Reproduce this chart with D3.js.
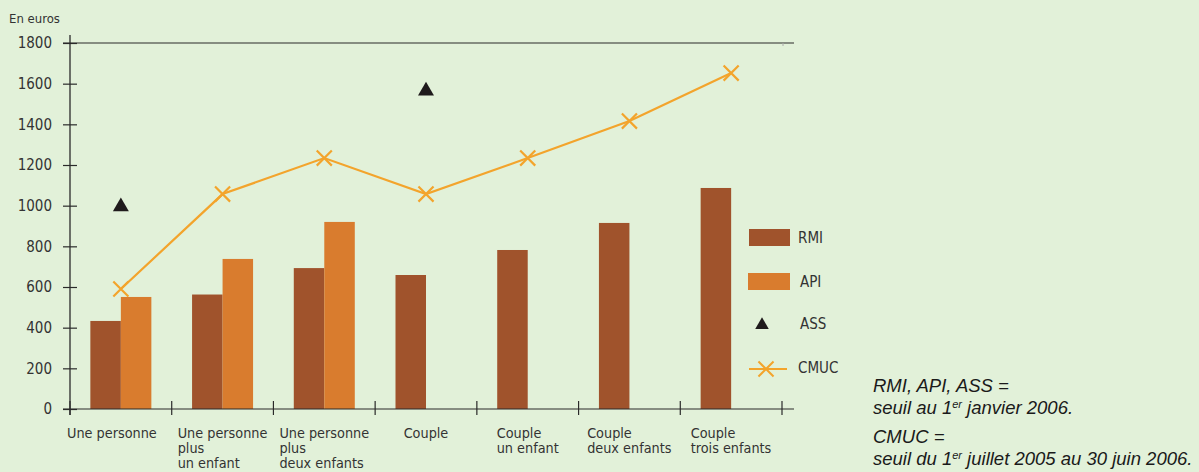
<!DOCTYPE html>
<html>
<head>
<meta charset="utf-8">
<script src="https://cdn.jsdelivr.net/npm/d3@7"></script>
<style>
  body { margin: 0; background: #e2f1d9; }
  svg { display: block; }
  .lbl { font-family: "Liberation Sans Narrow", "DejaVu Sans Condensed", sans-serif; fill: #333; }
  .note { font-family: "Liberation Sans", Arial, sans-serif; font-style: italic; fill: #1a1a1a; font-size: 18.5px; }
</style>
</head>
<body>
<script>
// data (euros)
const categories = [
  ["Une personne"],
  ["Une personne", "plus", "un enfant"],
  ["Une personne", "plus", "deux enfants"],
  ["Couple"],
  ["Couple", "un enfant"],
  ["Couple", "deux enfants"],
  ["Couple", "trois enfants"]
];
const rmi  = [433, 563, 693, 659, 782, 915, 1087];
const api  = [551, 738, 920, null, null, null, null];
const ass  = [1000, null, null, 1569, null, null, null];
const cmuc = [590, 1057, 1234, 1057, 1234, 1416, 1652];
const yTicks = [0, 200, 400, 600, 800, 1000, 1200, 1400, 1600, 1800];

const W = 1199, H = 472;
const cRmi = "#a0532c", cApi = "#d97c2e", cCmuc = "#f3a42c", cAss = "#1f1b1c", cAxis = "#2a2a2a";

const svg = d3.select("body").append("svg").attr("width", W).attr("height", H);

const x = d3.scaleBand().domain(d3.range(categories.length)).range([70, 782]);
const y = d3.scaleLinear().domain([0, 1800]).range([409, 43]);
const barW = 30.5;

// top line at 1800
svg.append("line").attr("x1", 63).attr("x2", 794).attr("y1", y(1800)).attr("y2", y(1800))
  .attr("stroke", cAxis).attr("stroke-width", 1.2);
svg.append("line").attr("x1", 783).attr("x2", 783).attr("y1", y(1800)).attr("y2", y(1800) + 3)
  .attr("stroke", "#aaa");

// bars
const g = svg.append("g");
g.selectAll("rect.rmi").data(rmi).join("rect").attr("class", "rmi")
  .attr("x", (d, i) => x(i) + x.bandwidth() / 2 - barW)
  .attr("width", barW)
  .attr("y", d => y(d)).attr("height", d => y(0) - y(d))
  .attr("fill", cRmi);
g.selectAll("rect.api").data(api.map((v, i) => ({v, i})).filter(d => d.v != null)).join("rect").attr("class", "api")
  .attr("x", d => x(d.i) + x.bandwidth() / 2)
  .attr("width", barW)
  .attr("y", d => y(d.v)).attr("height", d => y(0) - y(d.v))
  .attr("fill", cApi);

// y axis
const yAxis = d3.axisLeft(y).tickValues(yTicks).tickFormat(d3.format("d")).tickSize(0).tickPadding(18);
const ya = svg.append("g").attr("transform", "translate(70,0)").call(yAxis);
ya.select(".domain").remove();
ya.selectAll("text").attr("class", "lbl").attr("font-size", 15).attr("fill", "#333").attr("font-family", null);
ya.selectAll(".tick").append("line").attr("x1", -7).attr("x2", 7).attr("stroke", cAxis).attr("stroke-width", 1.2);
svg.append("line").attr("x1", 70).attr("x2", 70).attr("y1", 35).attr("y2", 415)
  .attr("stroke", cAxis).attr("stroke-width", 1.3);

// x axis
svg.append("line").attr("x1", 63).attr("x2", 794).attr("y1", y(0)).attr("y2", y(0))
  .attr("stroke", cAxis).attr("stroke-width", 1.2);
const xEdges = d3.range(categories.length + 1).map(i => i < categories.length ? x(i) : x.range()[1]);
svg.selectAll("line.xt").data(xEdges).join("line").attr("class", "xt")
  .attr("x1", d => d).attr("x2", d => d).attr("y1", 401).attr("y2", 415)
  .attr("stroke", cAxis).attr("stroke-width", 1.2);

// category labels
categories.forEach((lines, i) => {
  const t = svg.append("text").attr("class", "lbl").attr("font-size", 14.3);
  lines.forEach((s, k) => t.append("tspan").attr("x", 0).attr("y", 438 + k * 15).text(s));
  const w = t.node().getBBox().width;
  const cx = x(i) + x.bandwidth() / 2;
  const left = i === 0 ? x(i) - 3 : Math.max(x(i) + 2, cx - w / 2);
  t.selectAll("tspan").attr("x", left);
});

// CMUC line
const line = d3.line().x((d, i) => x(i) + x.bandwidth() / 2).y(d => y(d));
svg.append("path").datum(cmuc).attr("d", line).attr("fill", "none")
  .attr("stroke", cCmuc).attr("stroke-width", 2.2);
const cross = d3.symbol().type(d3.symbolX).size(150);
svg.selectAll("path.cx").data(cmuc).join("path").attr("class", "cx")
  .attr("transform", (d, i) => `translate(${x(i) + x.bandwidth() / 2},${y(d)})`)
  .attr("d", cross).attr("fill", "none").attr("stroke", cCmuc).attr("stroke-width", 2.2);

// ASS triangles
const tri = d3.symbol().type(d3.symbolTriangle).size(110);
svg.selectAll("path.ass").data(ass.map((v, i) => ({v, i})).filter(d => d.v != null)).join("path").attr("class", "ass")
  .attr("transform", d => `translate(${x(d.i) + x.bandwidth() / 2},${y(d.v) + 1})`)
  .attr("d", tri).attr("fill", cAss);

// legend
const lg = svg.append("g");
lg.append("rect").attr("x", 749).attr("y", 229).attr("width", 41).attr("height", 17).attr("fill", cRmi);
lg.append("text").attr("class", "lbl").attr("x", 798).attr("y", 243).attr("font-size", 15).text("RMI");
lg.append("rect").attr("x", 748).attr("y", 273).attr("width", 42).attr("height", 17).attr("fill", cApi);
lg.append("text").attr("class", "lbl").attr("x", 800).attr("y", 287).attr("font-size", 15).text("API");
lg.append("path").attr("transform", "translate(762,325)").attr("d", d3.symbol().type(d3.symbolTriangle).size(80)).attr("fill", cAss);
lg.append("text").attr("class", "lbl").attr("x", 800).attr("y", 329).attr("font-size", 15).text("ASS");
lg.append("line").attr("x1", 749).attr("x2", 787).attr("y1", 369).attr("y2", 369).attr("stroke", cCmuc).attr("stroke-width", 2);
lg.append("path").attr("transform", "translate(766,369)").attr("d", cross).attr("fill", "none").attr("stroke", cCmuc).attr("stroke-width", 2);
lg.append("text").attr("class", "lbl").attr("x", 798).attr("y", 373).attr("font-size", 15).text("CMUC");

// unit label
svg.append("text").attr("class", "lbl").attr("x", 9).attr("y", 23).attr("font-size", 13).text("En euros");

// notes
const notes = svg.append("g").attr("class", "note");
notes.append("text").attr("x", 873).attr("y", 392).text("RMI, API, ASS =");
const n2 = notes.append("text").attr("x", 873).attr("y", 414);
n2.append("tspan").text("seuil au 1");
n2.append("tspan").attr("font-size", 11).attr("dy", -6).text("er");
n2.append("tspan").attr("dy", 6).text(" janvier 2006.");
notes.append("text").attr("x", 873).attr("y", 443).text("CMUC =");
const n4 = notes.append("text").attr("x", 873).attr("y", 465);
n4.append("tspan").text("seuil du 1");
n4.append("tspan").attr("font-size", 11).attr("dy", -6).text("er");
n4.append("tspan").attr("dy", 6).text(" juillet 2005 au 30 juin 2006.");
</script>
</body>
</html>
